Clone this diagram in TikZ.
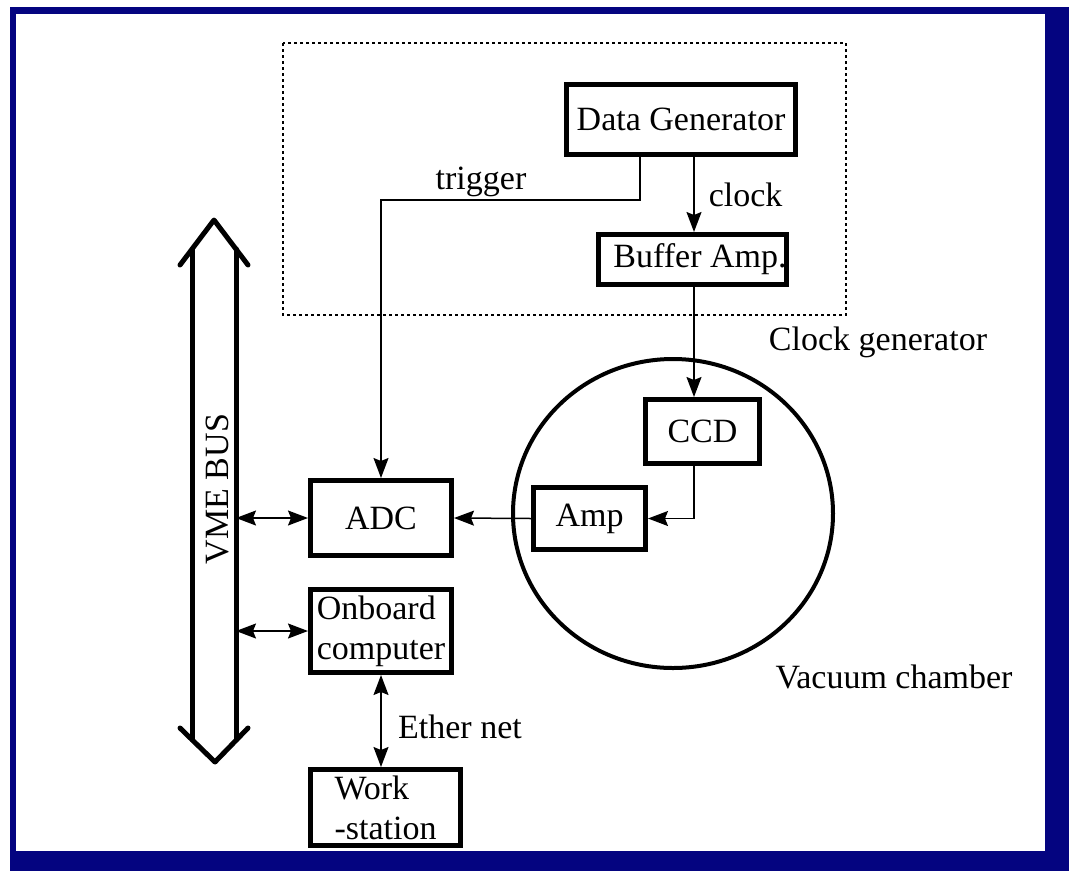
\documentclass[tikz,border=0pt]{standalone}
\usepackage{fontspec}
\setmainfont{Liberation Serif}
\usetikzlibrary{arrows.meta}
\definecolor{framenavy}{RGB}{4,4,128}
\tikzset{
  lbl/.style={font=\fontsize{34}{40}\selectfont, inner sep=0pt},
  blockbox/.style={draw, line width=5pt, lbl, align=center},
  wire/.style={line width=1.5pt},
  headtip/.tip={Stealth[length=20pt,width=15pt,inset=3pt]},
  arr/.style={wire, -headtip},
  dblarr/.style={wire, headtip-headtip},
  busline/.style={line width=5pt, line cap=round, line join=round},
  dottedframe/.style={line width=1.5pt, dash pattern=on 3pt off 3pt}
}
\begin{document}
\begin{tikzpicture}[x=1pt,y=-1pt]
  % page and navy frame
  \useasboundingbox (0,0) rectangle (1069,871);
  \fill[white] (0,0) rectangle (1069,871);
  \fill[framenavy] (10,7) rectangle (1069,871);
  \fill[white] (16,14) rectangle (1045,851);

  % clock generator enclosure
  \draw[dottedframe] (283,43) rectangle (846,315);
  \node[lbl] (clkgen) at (878,342) {Clock generator};

  % vacuum chamber
  \draw[line width=4pt] (673,513.5) ellipse [x radius=160pt, y radius=154.5pt];
  \node[lbl] (vacuum) at (894,677) {Vacuum chamber};

  % blocks
  \node[blockbox, minimum width=229pt, minimum height=70pt] (dg) at (681,119.5) {Data Generator};
  \node[blockbox, minimum width=186pt, minimum height=50pt] (ba) at (692.5,259.5) {\hspace*{15pt}Buffer Amp.};
  \node[blockbox, minimum width=114pt, minimum height=64pt] (ccd) at (702.5,431.5) {CCD};
  \node[blockbox, minimum width=112pt, minimum height=62pt] (amp) at (589.5,518.5) {Amp};
  \node[blockbox, minimum width=141pt, minimum height=75pt] (adc) at (381,518) {ADC};
  \node[blockbox, align=left, minimum width=141pt, minimum height=83pt] (obc) at (381,631) {Onboard\\computer};
  \node[blockbox, align=left, minimum width=150pt, minimum height=76pt] (ws) at (385.5,807.5) {Work\\-station};

  % VME bus: two rails with open chevron heads
  \coordinate (busL) at (192,0);
  \coordinate (busR) at (236,0);
  \draw[busline] (180,265) -- (214,220) -- (248,265);
  \draw[busline] (180,728) -- (215,762) -- (248,728);
  \draw[busline] (192,249) -- (192,740);
  \draw[busline] (236,249) -- (236,740);
  \node[lbl, rotate=90] (vme) at (217,489) {VME BUS};

  % signal routing
  \coordinate (clk) at (694,0);
  \coordinate (trg) at (640,200);
  \draw[arr] (dg.south -| clk) -- (ba.north -| clk)
    node[lbl, pos=0.5, right=14pt] (clocklbl) {clock};
  \draw[arr] (dg.south -| trg) -- (trg) -- (trg -| adc) -- (adc.north);
  \node[lbl] (triglbl) at (481,182) {trigger};
  \draw[arr] (ba.south -| clk) -- (ccd.north -| clk);
  \draw[arr] (ccd.south -| clk) |- (amp.east);
  \draw[arr] (amp.west) -- (adc.east);

  % bus and network links
  \draw[dblarr] (busR |- adc) -- (adc.west);
  \draw[dblarr] (busR |- obc) -- (obc.west);
  \draw[dblarr] (obc.south) -- (obc.south |- ws.north);
  \node[lbl] (ether) at (460,727) {Ether net};
\end{tikzpicture}
\end{document}
